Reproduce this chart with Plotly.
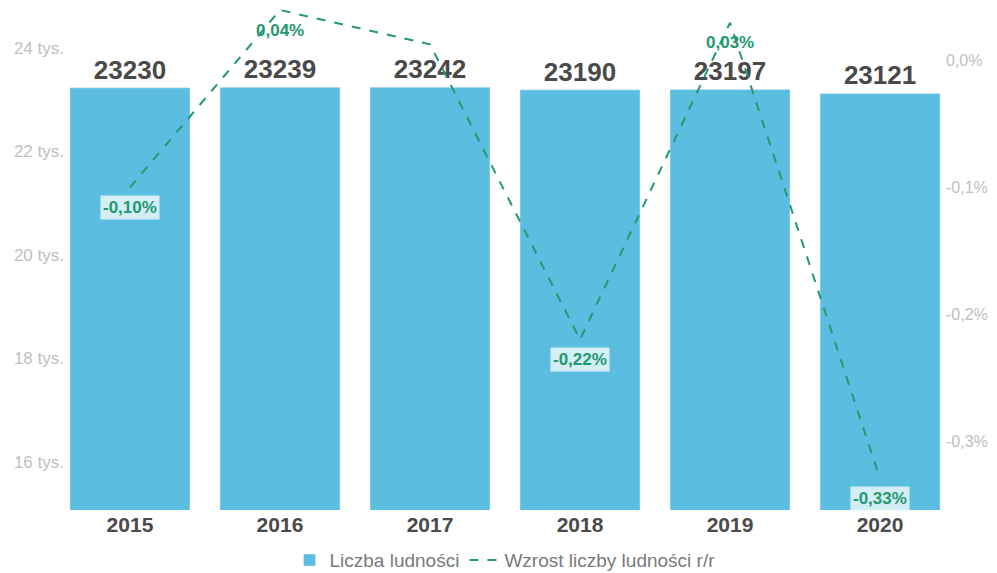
import plotly.graph_objs as go

years = ["2015", "2016", "2017", "2018", "2019", "2020"]
population = [23230, 23239, 23242, 23190, 23197, 23121]
growth = [-0.10, 0.04, 0.013, -0.22, 0.03, -0.33]
growth_labels = ["-0,10%", "0,04%", "", "-0,22%", "0,03%", "-0,33%"]

pop_ticks = [16000, 18000, 20000, 22000, 24000]
pop_tick_text = ["16 tys.", "18 tys.", "20 tys.", "22 tys.", "24 tys."]
growth_ticks = [0.0, -0.1, -0.2, -0.3]
growth_tick_text = ["0,0%", "-0,1%", "-0,2%", "-0,3%"]

BAR_COLOR = "#5bbde0"
LINE_COLOR = "#23996f"
TEXT_DARK = "#4a4a4a"
TICK_GRAY = "#c0c0c0"
NARROW = "Liberation Sans Narrow, Arial Narrow, Liberation Sans, Arial"

bars = go.Bar(
    x=years, y=population, name="Liczba ludności",
    marker_color=BAR_COLOR, width=0.8,
    text=[str(p) for p in population], textposition="outside",
    textfont=dict(family="Liberation Sans, Arial", size=26, color=TEXT_DARK, weight="bold"),
    cliponaxis=False,
)
trend = go.Scatter(
    x=years, y=growth, name="Wzrost liczby ludności r/r", yaxis="y2",
    mode="lines", line=dict(color=LINE_COLOR, width=2, dash="dash"),
    cliponaxis=False,
)

fig = go.Figure(data=[bars, trend])

# growth labels under each line point (x by category index)
for i, (g, lbl) in enumerate(zip(growth, growth_labels)):
    if not lbl:
        continue
    fig.add_annotation(
        x=i, xref="x", y=g, yref="y2", text=f"<b>{lbl}</b>", showarrow=False,
        yshift=-20, font=dict(family="Liberation Sans, Arial", size=17, color=LINE_COLOR),
        bgcolor="rgba(225,243,248,0.9)" if g < 0 else "rgba(0,0,0,0)",
        borderpad=2,
    )

# page body has an 8px margin, so the figure is sized/shifted to compensate
fig.update_layout(
    width=989, height=565,
    margin=dict(l=57, r=52, t=0, b=63, autoexpand=False),
    plot_bgcolor="white", paper_bgcolor="white",
    showlegend=True,
    legend=dict(orientation="h", x=0.5, xanchor="center", y=-0.1, yanchor="middle",
                font=dict(family=NARROW, size=19, color="#7a7a7a"),
                itemwidth=30, tracegroupgap=0),
    xaxis=dict(type="category", range=[-0.433, 5.433], showgrid=False, showline=False,
               ticks="", automargin=False,
               tickfont=dict(family="Liberation Sans, Arial", size=21, color=TEXT_DARK,
                             weight="bold")),
    yaxis=dict(range=[15070, 24772], tickvals=pop_ticks, ticktext=pop_tick_text,
               showgrid=False, zeroline=False, showline=False, ticks="", automargin=False,
               tickfont=dict(family=NARROW, size=17, color=TICK_GRAY)),
    yaxis2=dict(range=[-0.3545, 0.0416], overlaying="y", side="right",
                tickvals=growth_ticks, ticktext=growth_tick_text,
                showgrid=False, zeroline=False, showline=False, ticks="", automargin=False,
                tickfont=dict(family=NARROW, size=16, color=TICK_GRAY)),
)

fig.write_html("out.html")
